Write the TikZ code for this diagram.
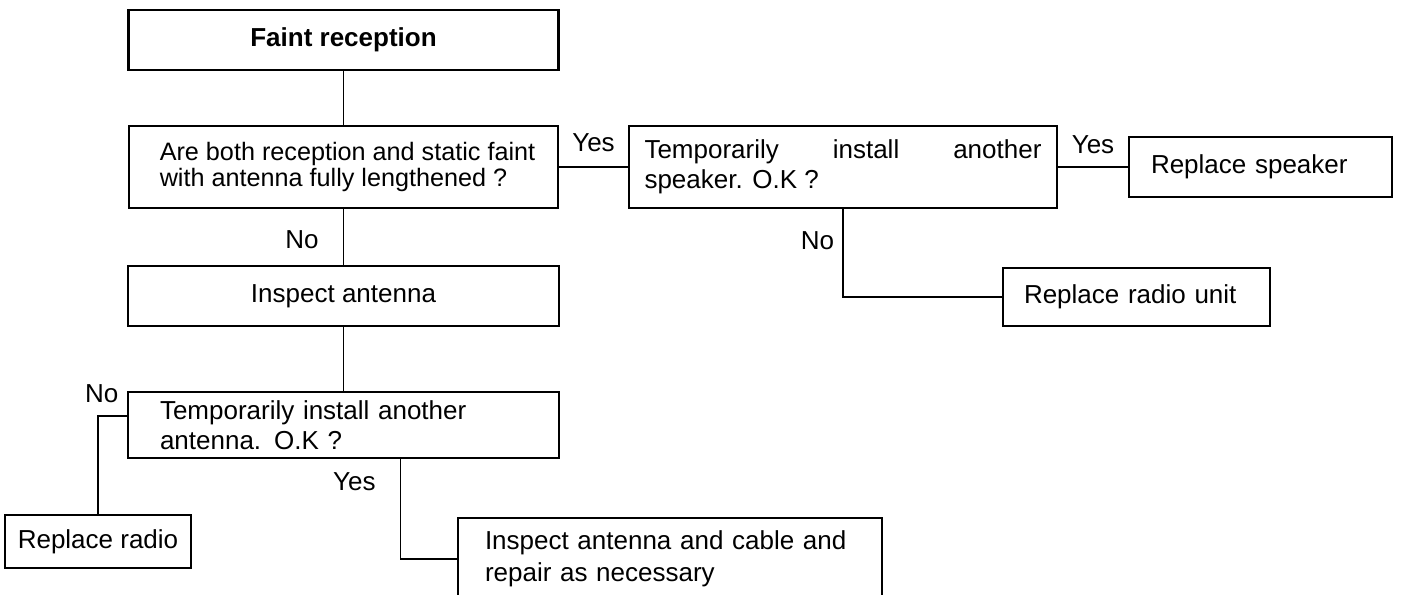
\documentclass[tikz,border=0pt]{standalone}
\usepackage{fontspec}
\setmainfont{Liberation Sans}
\usetikzlibrary{calc}
\begin{document}
\begin{tikzpicture}[x=0.5pt,y=-0.5pt,
  txt/.style={font=\fontsize{13}{15}\selectfont},
  box/.style={draw, line width=1.3pt, rectangle, inner sep=0pt, txt},
  lbox/.style={box, align=left},
  conn/.style={line width=0.8pt},
  lbl/.style={txt, inner sep=0pt}]
\useasboundingbox (0,0) rectangle (1401,594);
\fill[white] (0,0) rectangle (1401,594);

\node[box, minimum width=215pt, minimum height=30pt, font=\fontsize{13}{15}\selectfont\bfseries] (B1) at (343.5,40) {Faint reception};
\node[lbox, minimum width=214.5pt, minimum height=41pt, font=\fontsize{12.6}{13}\selectfont] (B2) at (343.5,167) {\hspace*{4pt}Are both reception and static faint\\\hspace*{4pt}with antenna fully lengthened ?\vphantom{p}};
\node[lbox, minimum width=214pt, minimum height=41pt] (B3) at (843,167) {\makebox[198.5pt][s]{Temporarily install another}\\speaker. O.K ?};
\node[lbox, inner xsep=11pt, text width=109.5pt, minimum height=30pt] (B4) at (1260.5,167) {Replace speaker};
\node[lbox, inner xsep=10.5pt, text width=112.5pt, minimum height=29pt] (B5) at (1136.5,297) {Replace radio unit};
\node[box, minimum width=215.5pt, minimum height=30pt] (B6) at (343.5,296) {Inspect antenna};
\node[lbox, inner xsep=16pt, text width=183.5pt, minimum height=33pt] (B7) at (343.5,425) {Temporarily install another\\antenna. O.K ?};
\node[box, minimum width=93pt, minimum height=26.5pt] (B8) at (98,541.5) {Replace radio};
\node[lbox, inner xsep=13.5pt, text width=185pt, minimum height=41pt, font=\fontsize{13}{16}\selectfont] (B9) at (670,559) {Inspect antenna and cable and\\repair as necessary};

\draw[conn] (B1.south) -- (B2.north);
\draw[conn] (B2.south) -- node[lbl, left=12pt, pos=0.55] {No} (B6.north);
\draw[conn] (B6.south) -- (B7.north);
\draw[conn] (B2.east) -- node[lbl, above=7pt] {Yes} (B3.west);
\draw[conn] (B3.east) -- node[lbl, above=6pt] {Yes} (B4.west);
\draw[conn] (B3.south) |- node[lbl, left=4pt, pos=0.18] {No} (B5.west);
\draw[conn] ([yshift=4.5pt]B7.west) -| (B8.north);
\node[lbl, anchor=north east] (NoB7) at ([shift={(-4pt,3pt)}]B7.north west) {No};
\draw[conn] ($(B7.south west)!0.631!(B7.south east)$) |- node[lbl, left=12pt, pos=0.11] {Yes} (B9.west);
\end{tikzpicture}
\end{document}
